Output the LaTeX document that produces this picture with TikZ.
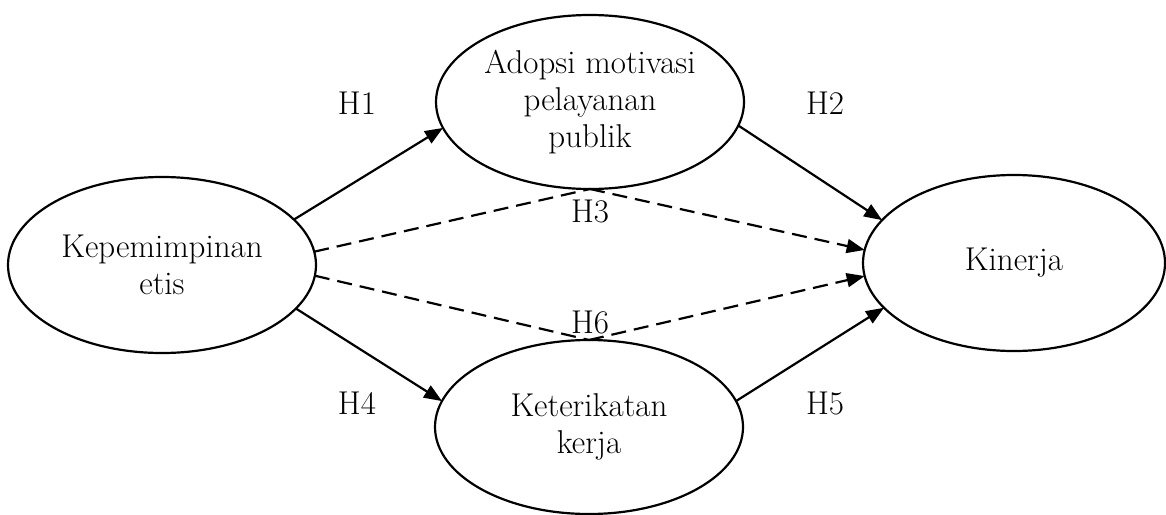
\documentclass[tikz,border=0pt]{standalone}
\usetikzlibrary{shapes.geometric,arrows.meta}
\begin{document}
\begin{tikzpicture}[x=1pt,y=-1pt,
  ell/.style={draw,ellipse,line width=2.2pt,inner sep=0pt,outer sep=0pt,align=center,
    font=\fontsize{33}{37}\selectfont},
  lbl/.style={font=\fontsize{33}{37}\selectfont,inner sep=0pt},
  tip/.style={-{Triangle[length=18pt,width=14pt]}},
  arr/.style={line width=2.2pt,tip},
  dsh/.style={line width=2.2pt,dash pattern=on 15pt off 8pt}]
\useasboundingbox (0,0) rectangle (1166,514);
\node[ell,minimum width=308pt,minimum height=176pt] (L) at (162,265) {Kepemimpinan\\etis};
\node[ell,minimum width=308pt,minimum height=174pt] (T) at (590,102) {Adopsi motivasi\\pelayanan\\publik};
\node[ell,minimum width=308pt,minimum height=174pt] (B) at (589,427) {Keterikatan\\kerja};
\node[ell,minimum width=302pt,minimum height=176pt] (R) at (1014,263) {Kinerja};
\node[lbl] (h1) at (357,103) {H1};
\node[lbl] (h2) at (825,103) {H2};
\node[lbl] (h3) at (590,211) {H3};
\node[lbl] (h6) at (590,322) {H6};
\node[lbl] (h4) at (357,403) {H4};
\node[lbl] (h5) at (825,403) {H5};
\draw[arr] (L.19) -- (T.190);
\draw[arr] (T.351) -- (R.162);
\draw[arr] (L.342) -- (B.170);
\draw[arr] (B.10) -- (R.199);
\draw[dsh] (L.5) -- (T.south);
\draw[dsh,tip] (T.south) -- (R.175);
\draw[dsh] (L.356) -- (B.north);
\draw[dsh,tip] (B.north) -- (R.185);
\end{tikzpicture}
\end{document}
